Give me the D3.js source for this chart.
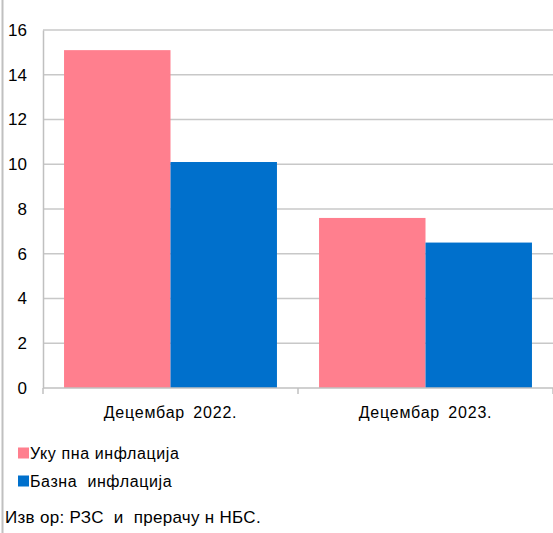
<!DOCTYPE html>
<html><head><meta charset="utf-8">
<script src="https://cdn.jsdelivr.net/npm/d3@7"></script>
<style>body{margin:0;background:#fff}svg{display:block}text{font-family:"Liberation Sans",Arial,sans-serif;fill:#000;white-space:pre}</style>
</head><body>
<svg id="c" width="553" height="533"></svg>
<script>
const categories = ["Децембар 2022.", "Децембар 2023."];
const seriesNames = ["Уку пна инфлација", "Базна  инфлација"];
const headline = [15.1, 7.6];
const core = [10.1, 6.5];
const yTicks = [0, 2, 4, 6, 8, 10, 12, 14, 16];
const colors = ["#FF7F8E", "#0070CC"];
const source = "Изв ор: РЗС  и  прерачу н НБС.";

const svg = d3.select("#c");
const L = 43, R = 553, T = 30, B = 388;
const y = d3.scaleLinear().domain([0, 16]).range([B, T]);
const x0 = d3.scaleBand().domain(categories).range([L, R]).paddingInner(0.165).paddingOuter(0.0825);
const x1 = d3.scaleBand().domain([0, 1]).range([0, x0.bandwidth()]);

// left border
svg.append("line").attr("x1", 2.5).attr("x2", 2.5).attr("y1", 0).attr("y2", 533)
  .attr("stroke", "#c0c0c0").attr("stroke-width", 2);

// gridlines
svg.append("g").selectAll("line").data(yTicks.filter(d => d > 0)).join("line")
  .attr("x1", L).attr("x2", R).attr("y1", d => y(d)).attr("y2", d => y(d))
  .attr("stroke", "#c8c8c8").attr("stroke-width", 1.5);

// bars
const data = categories.map((c, i) => ({c, v: [headline[i], core[i]]}));
svg.append("g").selectAll("g").data(data).join("g")
  .attr("transform", d => `translate(${x0(d.c)},0)`)
  .selectAll("rect").data(d => d.v.map((v, k) => ({v, k}))).join("rect")
  .attr("x", d => x1(d.k)).attr("width", x1.bandwidth())
  .attr("y", d => y(d.v)).attr("height", d => B - y(d.v))
  .attr("fill", d => colors[d.k]);

// y axis
const yAxis = svg.append("g").attr("transform", `translate(${L},0)`)
  .call(d3.axisLeft(y).tickValues(yTicks).tickSize(0).tickPadding(16));
yAxis.select(".domain").attr("stroke", "#c0c0c0").attr("stroke-width", 1.5);
yAxis.selectAll("text").attr("font-size", 17).style("font-family", '"Liberation Sans",Arial,sans-serif');

// x axis baseline and ticks
svg.append("line").attr("x1", L).attr("x2", R).attr("y1", B).attr("y2", B)
  .attr("stroke", "#c0c0c0").attr("stroke-width", 1.5);
const tickX = [L].concat(categories.slice(1).map(c => x0(c) - x0.step() * x0.paddingInner() / 2)).concat([R]);
svg.append("g").selectAll("line").data(tickX).join("line")
  .attr("x1", d => d).attr("x2", d => d).attr("y1", B).attr("y2", B + 6)
  .attr("stroke", "#c0c0c0").attr("stroke-width", 1.5);
svg.append("g").selectAll("text").data(categories).join("text")
  .attr("x", d => x0(d) + x0.bandwidth() / 2).attr("y", 418)
  .attr("text-anchor", "middle").attr("font-size", 16)
  .attr("letter-spacing", 0.8).attr("word-spacing", 3).text(d => d);

// legend
const lg = svg.append("g").selectAll("g").data(seriesNames).join("g")
  .attr("transform", (d, i) => `translate(18,${447.5 + i * 28})`);
lg.append("rect").attr("width", 11).attr("height", 11).attr("fill", (d, i) => colors[i]);
lg.append("text").attr("x", 12).attr("y", 11.5).attr("font-size", 16)
  .attr("letter-spacing", 0.6).text(d => d);

svg.append("text").attr("x", 5).attr("y", 523).attr("font-size", 17)
  .attr("letter-spacing", 0.3).text(source);
</script>
</body></html>
